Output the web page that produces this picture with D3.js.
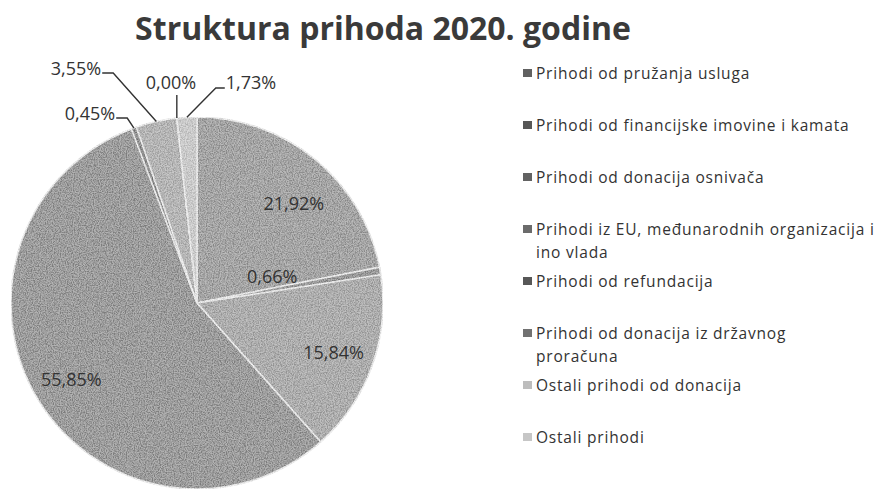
<!DOCTYPE html>
<html>
<head>
<meta charset="utf-8">
<script src="https://cdn.jsdelivr.net/npm/d3@7"></script>
<style>
  body { margin: 0; background: #fff; }
  svg { display: block; }
</style>
</head>
<body>
<div id="chart"></div>
<script>
// Data
const categories = [
  "Prihodi od pružanja usluga",
  "Prihodi od financijske imovine i kamata",
  "Prihodi od donacija osnivača",
  "Prihodi iz EU, međunarodnih organizacija i\nino vlada",
  "Prihodi od refundacija",
  "Prihodi od donacija iz državnog\nproračuna",
  "Ostali prihodi od donacija",
  "Ostali prihodi"
];
const shares = [21.92, 0.66, 15.84, 55.85, 0.45, 3.55, 0.00, 1.73];
const shareLabels = ["21,92%", "0,66%", "15,84%", "55,85%", "0,45%", "3,55%", "0,00%", "1,73%"];
const title = "Struktura prihoda 2020. godine";

// grey shades of the scan
const sliceColors = ["#9a9a9a", "#8a8a8a", "#a5a5a5", "#8d8d8d", "#7c7c7c", "#b0b0b0", "#c2c2c2", "#cccccc"];
const swatchColors = ["#616161", "#575757", "#626262", "#6b6b6b", "#575757", "#717171", "#bdbdbd", "#c6c6c6"];

const W = 885, H = 497;
const cx = 197, cy = 303, radius = 186;

const svg = d3.select("#chart").append("svg")
  .attr("width", W)
  .attr("height", H);

// grain filter so the slices look like the scan
const defs = svg.append("defs");
const f = defs.append("filter").attr("id", "grain").attr("x", 0).attr("y", 0).attr("width", 1).attr("height", 1);
f.append("feTurbulence").attr("type", "fractalNoise").attr("baseFrequency", 0.85).attr("numOctaves", 2).attr("seed", 3).attr("result", "noise");
f.append("feColorMatrix").attr("in", "noise").attr("type", "matrix")
  .attr("values", "2.5 0 0 0 -0.7  2.5 0 0 0 -0.7  2.5 0 0 0 -0.7  0 0 0 0 0.25")
  .attr("result", "spots");
f.append("feComposite").attr("in", "spots").attr("in2", "SourceAlpha").attr("operator", "in").attr("result", "spotsIn");
const merge = f.append("feMerge");
merge.append("feMergeNode").attr("in", "SourceGraphic");
merge.append("feMergeNode").attr("in", "spotsIn");

// title
svg.append("text")
  .attr("x", 383)
  .attr("y", 40)
  .attr("text-anchor", "middle")
  .style("font-family", "'Open Sans', sans-serif")
  .style("font-weight", "bold")
  .style("font-size", "32px")
  .style("fill", "#3a3a3a")
  .text(title);

// pie
const pie = d3.pie().sort(null).value(d => d)(shares);
const arc = d3.arc().innerRadius(0).outerRadius(radius);

const g = svg.append("g").attr("transform", `translate(${cx},${cy})`);

g.append("g")
  .attr("filter", "url(#grain)")
  .selectAll("path")
  .data(pie)
  .join("path")
  .attr("d", arc)
  .attr("fill", (d, i) => sliceColors[i])
  .attr("stroke", "#f2f2f2")
  .attr("stroke-width", 1.5);

// label placement (Excel moved a few of them)
const inside = {
  0: { angle: 44, r: 0.75 },
  1: { angle: 70, r: 0.43 },
  2: { r: 0.78 },
  3: { r: 0.79 }
};
const outside = {
  4: { dx: -107, dy: -190 },
  5: { dx: -121, dy: -235 },
  6: { dx: -26, dy: -221 },
  7: { dx: 54, dy: -221 }
};

const labelStyle = sel => sel
  .attr("text-anchor", "middle")
  .attr("dominant-baseline", "central")
  .style("font-family", "'Open Sans', sans-serif")
  .style("font-size", "18px")
  .style("fill", "#333");

pie.forEach((d, i) => {
  if (inside[i]) {
    const p = inside[i];
    const a = p.angle != null ? p.angle * Math.PI / 180 : (d.startAngle + d.endAngle) / 2;
    const r = radius * p.r;
    g.append("text")
      .attr("x", Math.sin(a) * r)
      .attr("y", -Math.cos(a) * r)
      .call(labelStyle)
      .text(shareLabels[i]);
  } else {
    const p = outside[i];
    const t = g.append("text")
      .attr("x", p.dx)
      .attr("y", p.dy)
      .call(labelStyle)
      .text(shareLabels[i]);
    const bb = t.node().getBBox();
    const a = (d.startAngle + d.endAngle) / 2;
    const ex = Math.sin(a) * radius, ey = -Math.cos(a) * radius;
    let pts;
    if (Math.abs(ex - p.dx) < 15) {
      pts = [[ex, bb.y + bb.height + 1], [ex, ey]];
    } else if (ex > p.dx) {
      const yb = p.dy + 5;
      pts = [[bb.x + bb.width + 1, yb], [bb.x + bb.width + 12, yb], [ex, ey]];
    } else {
      const yb = p.dy + 6;
      pts = [[bb.x - 1, yb], [bb.x - 10, yb], [ex, ey]];
    }
    g.append("path")
      .attr("d", d3.line()(pts))
      .attr("fill", "none")
      .attr("stroke", "#333")
      .attr("stroke-width", 1.4);
  }
});

// legend
const legend = svg.append("g").attr("transform", "translate(523, 73)");
const step = 52, lineH = 23;

categories.forEach((name, i) => {
  const row = legend.append("g").attr("transform", `translate(0, ${i * step})`);
  row.append("rect")
    .attr("x", 0)
    .attr("y", -4)
    .attr("width", 9)
    .attr("height", 8)
    .attr("fill", swatchColors[i]);
  name.split("\n").forEach((line, j) => {
    row.append("text")
      .attr("x", 13)
      .attr("y", j * lineH)
      .attr("dominant-baseline", "central")
      .style("font-family", "'Open Sans', sans-serif")
      .style("font-size", "15.5px")
      .style("letter-spacing", "0.8px")
      .style("fill", "#333")
      .text(line);
  });
});
</script>
</body>
</html>
